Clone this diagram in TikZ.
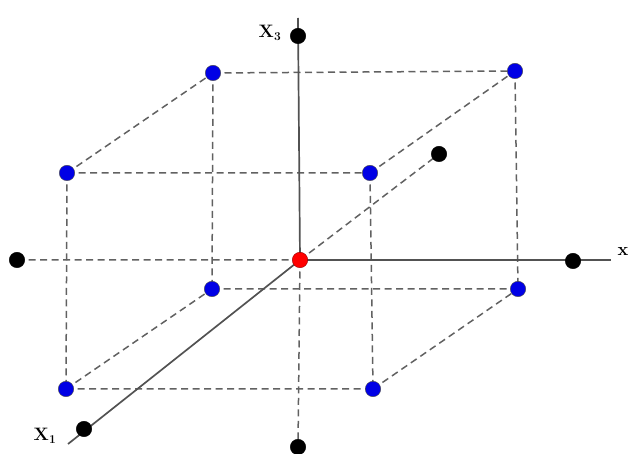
\documentclass[tikz,border=0pt]{standalone}
\begin{document}
\begin{tikzpicture}[x=1pt,y=-1pt,
  dot/.style={circle,draw=black!70,line width=0.4pt,inner sep=0pt,minimum size=15.5pt},
  bluedot/.style={dot,fill=blue!90!black},
  blackdot/.style={dot,fill=black,draw=black},
  reddot/.style={dot,fill=red,draw=red!60!black},
  edge/.style={draw=black!62,line width=1.5pt,dash pattern=on 7pt off 4.5pt},
  axis/.style={draw=black!68,line width=1.7pt},
  lbl/.style={font=\fontsize{18}{20}\selectfont\bfseries,inner sep=0pt}]
\useasboundingbox (0,0) rectangle (630,454);
% coordinates
\coordinate (O) at (300,260);
\coordinate (x3end) at (298,18);
\coordinate (xend) at (611,260);
\coordinate (x1end) at (68,444);
% cube corners
\coordinate (btl) at (213,73);
\coordinate (btr) at (515,71);
\coordinate (ftl) at (67,173);
\coordinate (ftr) at (370,173);
\coordinate (bbl) at (212,289);
\coordinate (bbr) at (518,289);
\coordinate (fbl) at (66,389);
\coordinate (fbr) at (373,389);
\draw[edge] (btl) -- (btr) (ftl) -- (ftr) (ftl) -- (btl) (ftr) -- (btr)
  (ftl) -- (fbl) (btl) -- (bbl) (ftr) -- (fbr) (btr) -- (bbr)
  (fbl) -- (fbr) (bbl) -- (bbr) (fbl) -- (bbl) (fbr) -- (bbr);
% negative axes (dashed)
\coordinate (nx) at (17,260);
\coordinate (nx3) at (298,447);
\coordinate (nx1) at (439,154);
\draw[edge] (O) -- (nx) (O) -- (nx3) (O) -- (nx1);
% positive axes (solid)
\draw[axis] (O) -- (x3end);
\draw[axis] (O) -- (xend);
\draw[axis] (O) -- (x1end);
% dots
\foreach \p in {btl,btr,ftl,ftr,bbl,bbr,fbl,fbr} \node[bluedot] (d\p) at (\p) {};
\node[blackdot] (dnx) at (nx) {};
\node[blackdot] (dnx3) at (nx3) {};
\node[blackdot] (dnx1) at (nx1) {};
\node[blackdot] (dx3) at (298,36) {};
\node[blackdot] (dx) at (573,261) {};
\node[blackdot] (dx1) at (84,429) {};
\node[reddot] (dO) at (O) {};
% labels
\node[lbl] (l3) at (270,33) {X$_{\mathbf{3}}$};
\node[lbl] (l2) at (623,252) {x};
\node[lbl] (l1) at (45,436) {X$_{\mathbf{1}}$};
\end{tikzpicture}
\end{document}
